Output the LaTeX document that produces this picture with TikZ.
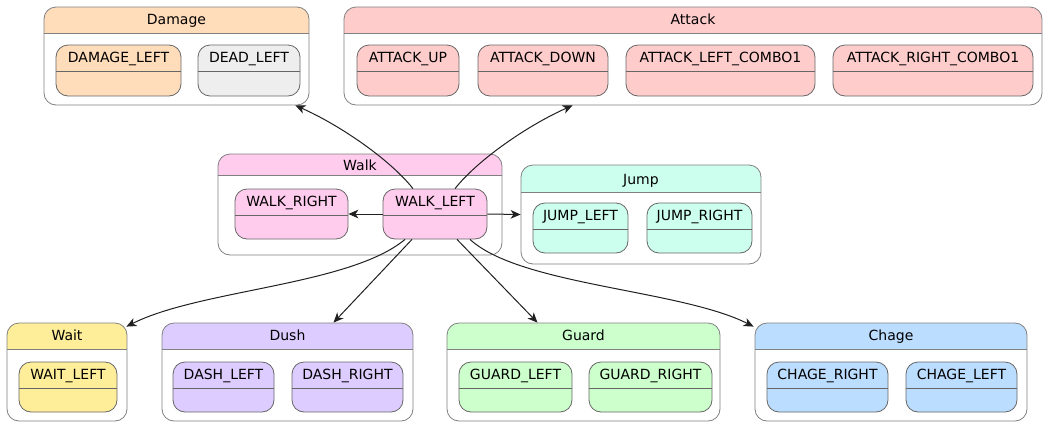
\documentclass[tikz,border=0pt]{standalone}
\usepackage{fontspec}
\setmainfont{DejaVu Sans}
\usetikzlibrary{fit}
\usetikzlibrary{calc}
\usetikzlibrary{arrows.meta}
\definecolor{grpline}{HTML}{808080}
\definecolor{stline}{HTML}{666666}
\definecolor{edgecol}{HTML}{202020}
\definecolor{dmgcol}{HTML}{FFDDBB}
\definecolor{deadcol}{HTML}{EEEEEE}
\definecolor{atkcol}{HTML}{FFCCCC}
\definecolor{walkcol}{HTML}{FFCCEE}
\definecolor{jumpcol}{HTML}{CCFFEE}
\definecolor{waitcol}{HTML}{FFEE99}
\definecolor{dushcol}{HTML}{DDCCFF}
\definecolor{guardcol}{HTML}{CCFFCC}
\definecolor{chagecol}{HTML}{BBDDFF}

\begin{document}
\begin{tikzpicture}[x=0.75pt,y=-0.75pt,>={Stealth[length=7.5pt,width=6.5pt,inset=2.2pt]},
	  every node/.style={font=\fontsize{10.5}{12}\selectfont},
	  grp/.style 2 args={draw=grpline,line width=0.6pt,rounded corners=9pt,inner sep=0pt,
	    path picture={\fill[#1,sharp corners] ([yshift=1pt]path picture bounding box.north west) rectangle ([yshift=-#2]path picture bounding box.north east);
	      \draw[grpline,line width=0.6pt,sharp corners] ([yshift=-#2]path picture bounding box.north west) -- ([yshift=-#2]path picture bounding box.north east);}},
	  st/.style={draw=stline,fill=#1,line width=0.6pt,rounded corners=9pt,inner sep=0pt,
	    path picture={\draw[stline,line width=0.6pt,sharp corners] ([yshift=-19.5pt]path picture bounding box.north west) -- ([yshift=-19.5pt]path picture bounding box.north east);}},
	  ttl/.style={anchor=base,inner sep=0pt},
	  edge line/.style={->,draw=edgecol,line width=0.75pt}]

	  \useasboundingbox (0,0) rectangle (1047,426);

	  % groups
	  \node[grp={dmgcol}{19.5pt},fit={(44,7)(309,105)}] (damage) {};
	  \node[grp={atkcol}{19.5pt},fit={(344,7)(1042,105)}] (attack) {};
	  \node[grp={walkcol}{15.75pt},fit={(218,154)(502,255)}] (walk) {};
	  \node[grp={jumpcol}{20.25pt},fit={(521,165)(761,264)}] (jump) {};
	  \node[grp={waitcol}{19.5pt},fit={(7,323)(127,421)}] (wait) {};
	  \node[grp={dushcol}{19.5pt},fit={(162,323)(413,421)}] (dush) {};
	  \node[grp={guardcol}{19.5pt},fit={(447,323)(720,421)}] (guard) {};
	  \node[grp={chagecol}{19.5pt},fit={(755,323)(1027,421)}] (chage) {};

	  \node[ttl] (damageT) at ($(damage.north)+(0,18)$) {Damage};
	  \node[ttl] (attackT) at ($(attack.north)+(0,18)$) {Attack};
	  \node[ttl] (walkT) at ($(walk.north)+(0,17)$) {Walk};
	  \node[ttl] (jumpT) at ($(jump.north)+(0,20)$) {Jump};
	  \node[ttl] (waitT) at ($(wait.north)+(0,17.5)$) {Wait};
	  \node[ttl] (dushT) at ($(dush.north)+(0,17.5)$) {Dush};
	  \node[ttl] (guardT) at ($(guard.north)+(0,17.5)$) {Guard};
	  \node[ttl] (chageT) at ($(chage.north)+(0,17.5)$) {Chage};

	  % states
	  \node[st=dmgcol,fit={(56,45)(181,96)}] (damageLeft) {};
	  \node[st=deadcol,fit={(198,45)(300,96)}] (deadLeft) {};
	  \node[st=atkcol,fit={(357,45)(459,96)}] (atkUp) {};
	  \node[st=atkcol,fit={(478,45)(608,96)}] (atkDown) {};
	  \node[st=atkcol,fit={(626,45)(815,96)}] (atkLeftC) {};
	  \node[st=atkcol,fit={(833,45)(1033,96)}] (atkRightC) {};
	  \node[st=walkcol,fit={(235,189)(348,239)}] (walkR) {};
	  \node[st=walkcol,fit={(383,189)(487,239)}] (walkL) {};
	  \node[st=jumpcol,fit={(533,203)(628,253)}] (jumpL) {};
	  \node[st=jumpcol,fit={(647,203)(752,253)}] (jumpR) {};
	  \node[st=waitcol,fit={(19,362)(117,412)}] (waitL) {};
	  \node[st=dushcol,fit={(173,362)(274,412)}] (dashL) {};
	  \node[st=dushcol,fit={(292,362)(403,412)}] (dashR) {};
	  \node[st=guardcol,fit={(459,362)(572,412)}] (guardL) {};
	  \node[st=guardcol,fit={(589,362)(712,412)}] (guardR) {};
	  \node[st=chagecol,fit={(767,362)(888,412)}] (chageR) {};
	  \node[st=chagecol,fit={(906,362)(1017,412)}] (chageL) {};

	  \node[ttl] (damageLeftT) at ($(damageLeft.north)+(0,18)$) {DAMAGE\_LEFT};
	  \node[ttl] (deadLeftT) at ($(deadLeft.north)+(0,18)$) {DEAD\_LEFT};
	  \node[ttl] (atkUpT) at ($(atkUp.north)+(0,18)$) {ATTACK\_UP};
	  \node[ttl] (atkDownT) at ($(atkDown.north)+(0,18)$) {ATTACK\_DOWN};
	  \node[ttl] (atkLeftCT) at ($(atkLeftC.north)+(0,18)$) {ATTACK\_LEFT\_COMBO1};
	  \node[ttl] (atkRightCT) at ($(atkRightC.north)+(0,18)$) {ATTACK\_RIGHT\_COMBO1};
	  \node[ttl] (walkRT) at ($(walkR.north)+(0,18)$) {WALK\_RIGHT};
	  \node[ttl] (walkLT) at ($(walkL.north)+(0,18)$) {WALK\_LEFT};
	  \node[ttl] (jumpLT) at ($(jumpL.north)+(0,18)$) {JUMP\_LEFT};
	  \node[ttl] (jumpRT) at ($(jumpR.north)+(0,18)$) {JUMP\_RIGHT};
	  \node[ttl] (waitLT) at ($(waitL.north)+(0,18)$) {WAIT\_LEFT};
	  \node[ttl] (dashLT) at ($(dashL.north)+(0,18)$) {DASH\_LEFT};
	  \node[ttl] (dashRT) at ($(dashR.north)+(0,18)$) {DASH\_RIGHT};
	  \node[ttl] (guardLT) at ($(guardL.north)+(0,18)$) {GUARD\_LEFT};
	  \node[ttl] (guardRT) at ($(guardR.north)+(0,18)$) {GUARD\_RIGHT};
	  \node[ttl] (chageRT) at ($(chageR.north)+(0,18)$) {CHAGE\_RIGHT};
	  \node[ttl] (chageLT) at ($(chageL.north)+(0,18)$) {CHAGE\_LEFT};

	  % transitions
	  \draw[edge line] ($(walkL.north)+(-22,0)$) .. controls +(-23,-29) and +(45,20) .. ($(damage.south east)+(-14,0)$);
	  \draw[edge line] ($(walkL.north)+(20,0)$) .. controls +(23,-29) and +(-45,20) .. ($(attack.south west)+(229,0)$);
	  \draw[edge line] (walkL.west) -- (walkR.east);
	  \draw[edge line] (walkL.east) -- (jump.west);
	  \draw[edge line] ($(walkL.south)+(-30,0)$) .. controls +(-55,46) and +(73,-37) .. ($(wait.north east)+(-1,4)$);
	  \draw[edge line] ($(walkL.south)+(-23,0)$) -- ($(dush.north)+(46,0)$);
	  \draw[edge line] ($(walkL.south)+(22,0)$) -- ($(guard.north)+(-46,0)$);
	  \draw[edge line] ($(walkL.south)+(35,0)$) .. controls +(50,46) and +(-73,-37) .. ($(chage.north west)+(-1,4)$);
\end{tikzpicture}
\end{document}
